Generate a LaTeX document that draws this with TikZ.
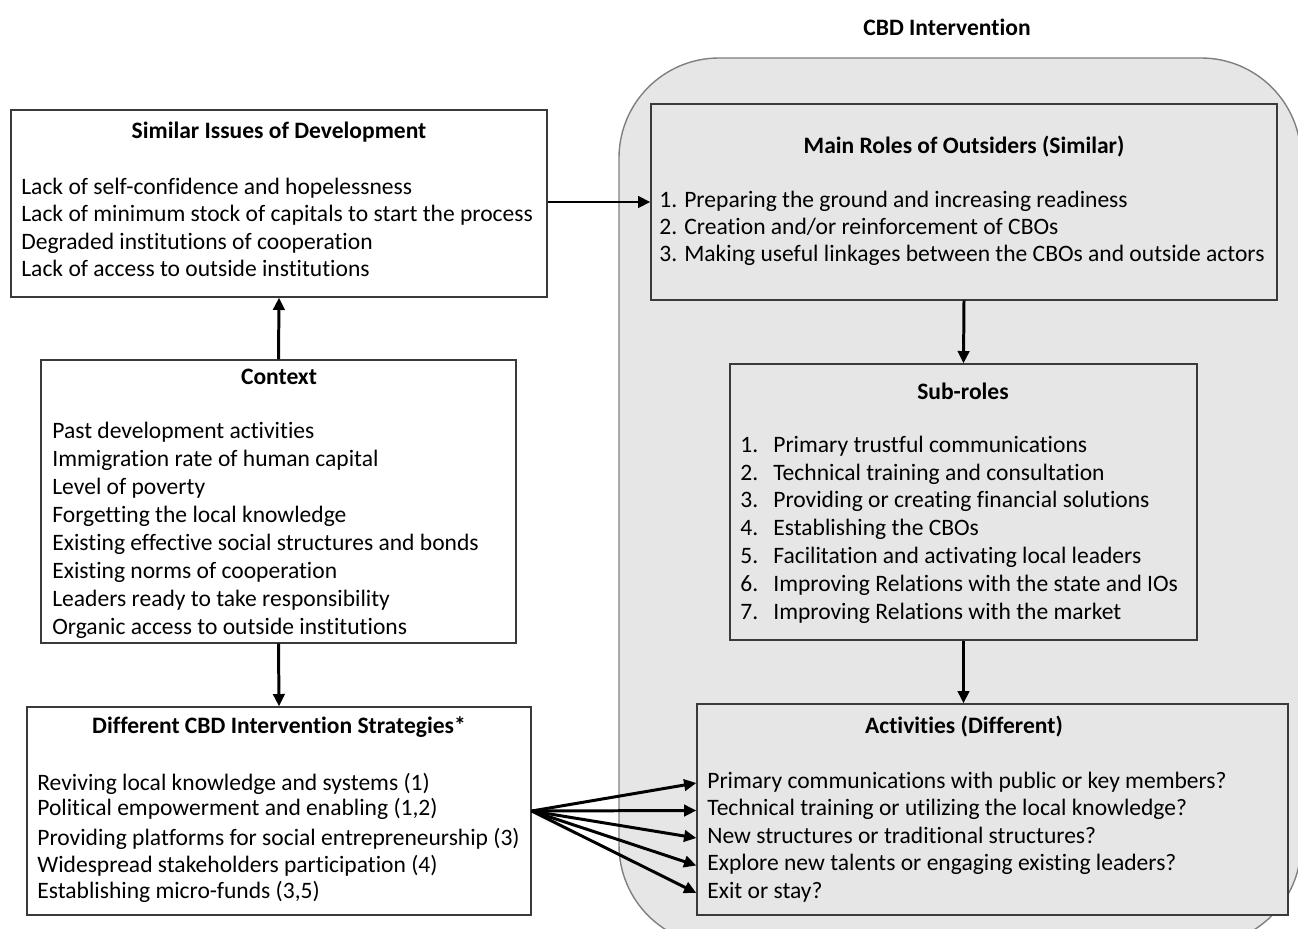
\documentclass[tikz,border=0pt]{standalone}
\usepackage{fontspec}
\setmainfont{Carlito}[Ligatures=NoCommon]
\usetikzlibrary{arrows.meta, positioning, calc}
\definecolor{panelgray}{HTML}{E6E6E6}
\definecolor{edgegray}{HTML}{3A3A3A}
\definecolor{roundgray}{HTML}{808080}

\begin{document}
\begin{tikzpicture}[x=0.02cm, y=-0.02cm,
    box/.style={rectangle, draw=edgegray, line width=0.8pt, fill=#1, inner sep=0pt},
    box/.default=white,
    title/.style={font=\fontsize{13.4}{15}\selectfont\bfseries, inner sep=0pt},
    item/.style={font=\fontsize{13.4}{15}\selectfont, anchor=west, inner sep=0pt, text height=9pt, text depth=3pt},
    arrow/.style={-{Triangle[length=7pt, width=6.5pt]}, line width=1.7pt, color=black}
]
\useasboundingbox (0,0) rectangle (1298,929);

% CBD intervention panel
\begin{scope}
  \clip (0,0) rectangle (1298,929);
  \draw[roundgray, fill=panelgray, line width=0.8pt, rounded corners=2cm] (619,58) rectangle (1301,945);
\end{scope}
\node[title] (cbd) at (947,27) {CBD Intervention};

% Boxes
\node[box, minimum width=10.72cm, minimum height=3.74cm] (sim) at (279,203.5) {};
\node[box=panelgray, minimum width=12.52cm, minimum height=3.92cm] (main) at (964,202) {};
\node[box, minimum width=9.5cm, minimum height=5.66cm] (ctx) at (278.5,501.5) {};
\node[box=panelgray, minimum width=9.34cm, minimum height=5.52cm] (sub) at (963.5,502) {};
\node[box, minimum width=10.08cm, minimum height=4.16cm] (strat) at (279,811) {};
\node[box=panelgray, minimum width=11.82cm, minimum height=4.22cm] (act) at (992.5,809.5) {};

% Titles
\node[title] (simtitle) at (279,132) {Similar Issues of Development};
\node[title] (maintitle) at (964,147) {Main Roles of Outsiders (Similar)};
\node[title] (ctxtitle) at (279,377) {Context};
\node[title] (subtitle) at (963,391) {Sub-roles};
\node[title] (strattitle) at (279,727) {Different CBD Intervention Strategies*};
\node[title] (acttitle) at (964,727) {Activities (Different)};

% Lists
\foreach \t [count=\i] in {Lack of self-confidence and hopelessness,
    Lack of minimum stock of capitals to start the process,
    Degraded institutions of cooperation,
    Lack of access to outside institutions}
  \node[item] (sim\i) at (21,{189+27.4*(\i-1)}) {\t};

\foreach \t [count=\i] in {1. Preparing the ground and increasing readiness,
    2. Creation and/or reinforcement of CBOs,
    3. Making useful linkages between the CBOs and outside actors}
  \node[item] (main\i) at (659,{202+27*(\i-1)}) {\t};

\foreach \t [count=\i] in {Past development activities,
    Immigration rate of human capital,
    Level of poverty,
    Forgetting the local knowledge,
    Existing effective social structures and bonds,
    Existing norms of cooperation,
    Leaders ready to take responsibility,
    Organic access to outside institutions}
  \node[item] (ctx\i) at (52,{433+28*(\i-1)}) {\t};

\foreach \t [count=\i] in {Primary trustful communications,
    Technical training and consultation,
    Providing or creating financial solutions,
    Establishing the CBOs,
    Facilitation and activating local leaders,
    Improving Relations with the state and IOs,
    Improving Relations with the market}
  \node[item] (sub\i) at (740,{447+27.8*(\i-1)}) {\makebox[0.66cm][l]{\i.}\t};

\foreach \y/\t [count=\i] in {785/Reviving local knowledge and systems (1),
    810/{Political empowerment and enabling (1,2)},
    840/Providing platforms for social entrepreneurship (3),
    867/Widespread stakeholders participation (4),
    893/{Establishing micro-funds (3,5)}}
  \node[item] (strat\i) at (37,\y) {\t};

\foreach \t [count=\i] in {Primary communications with public or key members?,
    Technical training or utilizing the local knowledge?,
    New structures or traditional structures?,
    Explore new talents or engaging existing leaders?,
    Exit or stay?}
  \node[item] (act\i) at (707,{783+27.5*(\i-1)}) {\t};

% Connectors
\draw[arrow] (ctx.north) -- (sim.south);
\draw[arrow] (ctx.south) -- (strat.north);
\draw[arrow] (sim.east |- main1.west) -- (main.west |- main1.west);
\draw[arrow] (main.south) -- (sub.north);
\draw[arrow] (sub.south) -- (sub.south |- act.north);
\foreach \i in {1,...,5}
  \draw[arrow] (strat.east) -- (act.west |- act\i.west);

\end{tikzpicture}
\end{document}
